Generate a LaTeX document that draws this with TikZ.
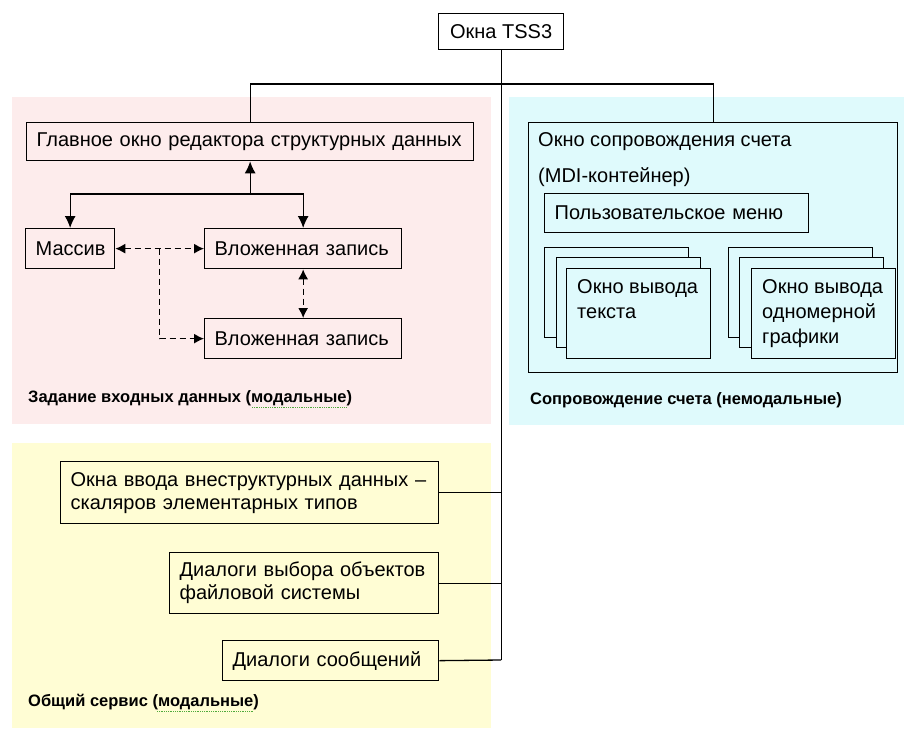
\documentclass[tikz,border=0pt]{standalone}
\usepackage{fontspec}
\setmainfont{Liberation Sans}
\usetikzlibrary{calc}
\usetikzlibrary{arrows.meta}

\definecolor{pinkbg}{RGB}{253,236,236}
\definecolor{cyanbg}{RGB}{223,250,252}
\definecolor{yellowbg}{RGB}{255,253,212}
\definecolor{spellgreen}{RGB}{80,170,60}

\tikzset{
box/.style = {draw=black, line width=1.3pt, anchor=north west, align=left,
              inner xsep=10pt, inner ysep=0pt,
              font=\fontsize{20}{23}\selectfont},
txt/.style = {inner sep=0pt, align=left, font=\fontsize{20}{25}\selectfont}
}

\begin{document}
\begin{tikzpicture}[x=1pt,y=-1pt,
win/.style={draw=black, fill=cyanbg, line width=1.3pt, anchor=north west,
            minimum width=144pt, minimum height=90pt},
lbl/.style={anchor=west, inner sep=0pt, font=\bfseries\fontsize{16.5}{18}\selectfont},
lC/.style={line width=1.3pt},
lE/.style={line width=1.3pt,-{Latex[length=12pt,width=11pt]}},
lD/.style={line width=1.3pt,dash pattern=on 6pt off 4pt,-{Latex[length=10pt,width=10pt]}},
lDD/.style={line width=1.3pt,dash pattern=on 6pt off 4pt,{Latex[length=10pt,width=10pt]}-{Latex[length=10pt,width=10pt]}}]
\useasboundingbox (0,0) rectangle (904,728);
%
% background areas
\fill[pinkbg] (12,97) rectangle (491,424);
\fill[cyanbg] (509,97) rectangle (904,425);
\fill[yellowbg] (12,443) rectangle (491,728);

% root
\node[box, minimum width=125pt, minimum height=36pt, align=center, inner xsep=0pt] (top) at (438,13) {Окна TSS3};

% input data editor
\node[box, minimum width=447pt, minimum height=38pt, text width=427pt] (main) at (26,122) {Главное окно редактора структурных данных};
\node[box, minimum width=89pt, minimum height=40pt, text width=69pt] (mass) at (25,228) {Массив};
\node[box, minimum width=197pt, minimum height=40pt, text width=177pt] (rec1) at (204,228) {Вложенная запись};
\node[box, minimum width=197pt, minimum height=40pt, text width=177pt] (rec2) at (204,318) {Вложенная запись};

% computation window
\node[box, minimum width=369pt, minimum height=250pt] (acc) at (528,122) {};
\node[txt, anchor=west] (accA) at ($(acc.north west)+(10,20)$) {Окно сопровождения счета};
\node[txt, anchor=west] (accB) at ($(acc.north west)+(10,55)$) {(MDI-контейнер)};
\node[box, minimum width=264pt, minimum height=39pt, text width=244pt] (menu) at (544,193) {Пользовательское меню};

\foreach \dx/\dy [count=\i] in {0/0, 12/10, 22/21}
  \node[win] (tw\i) at ($(544,247)+(\dx,\dy)$) {};
\node[txt, anchor=north west] (twt) at ($(tw3.north west)+(11,11)$) {Окно вывода\\текста};

\foreach \dx/\dy [count=\i] in {0/0, 11/10, 23/21}
  \node[win] (gw\i) at ($(728,247)+(\dx,\dy)$) {};
\node[txt, anchor=north west] (gwt) at ($(gw3.north west)+(11,11)$) {Окно вывода\\одномерной\\графики};

% common service
\node[box, minimum width=378pt, minimum height=62pt, text width=358pt] (in1) at (60,461) {Окна ввода внеструктурных данных --\\скаляров элементарных типов};
\node[box, minimum width=269pt, minimum height=61pt, text width=249pt] (in2) at (169,552) {Диалоги выбора объектов\\файловой системы};
\node[box, minimum width=216pt, minimum height=40pt, text width=196pt] (in3) at (222,640) {Диалоги сообщений};

% group labels
\node[lbl] (lin) at (28,398) {Задание входных данных (модальные)};
\node[lbl] (lacc) at (530,400) {Сопровождение счета (немодальные)};
\node[lbl] (lsrv) at (28,702) {Общий сервис (модальные)};
\draw[spellgreen, line width=0.8pt, densely dotted] (252,407) -- (347,407);
\draw[spellgreen, line width=0.8pt, densely dotted] (157,711) -- (253,711);

% tree
\coordinate (fork) at (top.south |- 0,84);
\coordinate (spine) at (top.south |- 0,660);
\draw[lC] (top.south) -- (spine);
\draw[lC] (main.north) |- (fork) -| (acc.north);
\draw[lC] (in1.east) -- (in1.east -| spine);
\draw[lC] (in2.east) -- (in2.east -| spine);
\draw[lC] (in3.east) -- (spine);

% editor links
\coordinate (sj) at (main.south |- 0,194);
\draw[lE] (sj) -- (main.south);
\draw[lE] (sj) -| (mass.north);
\draw[lE] (sj) -| (rec1.north);
\draw[lDD] (mass) -- (rec1);
\coordinate (dj) at ($(mass.east)!0.5!(rec1.west)$);
\draw[lD] (dj) |- (rec2.west);
\draw[lDD] (rec1) -- (rec2);

\end{tikzpicture}
\end{document}
